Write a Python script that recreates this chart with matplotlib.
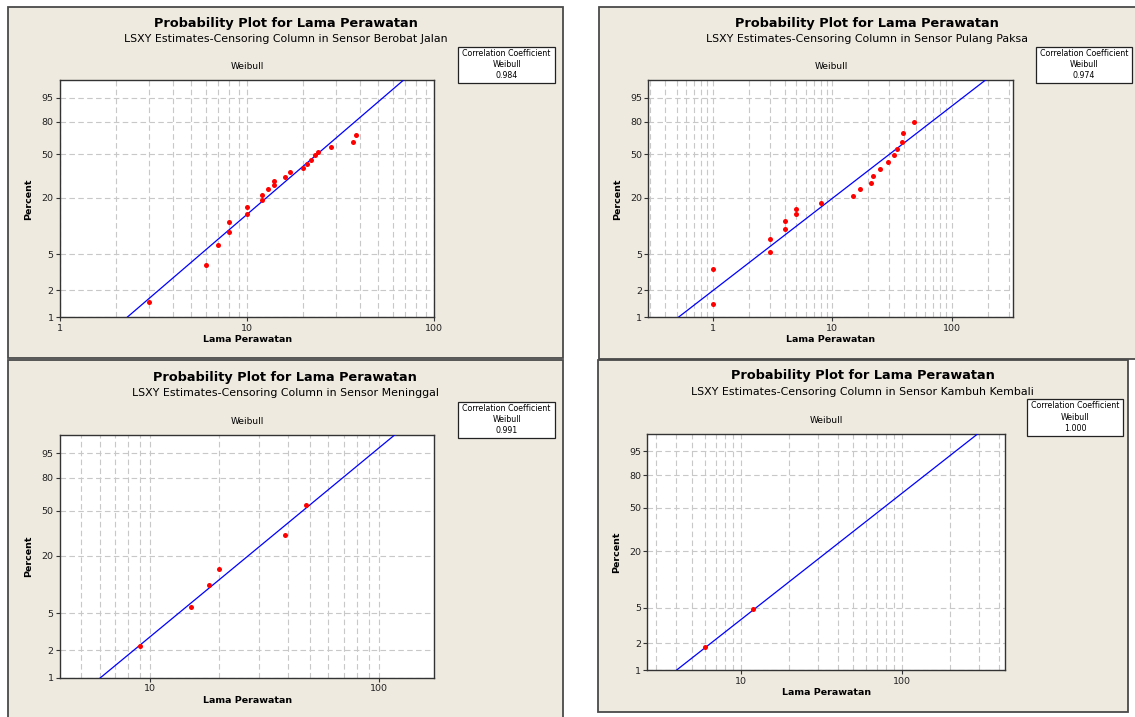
import numpy as np
import matplotlib.pyplot as plt
from matplotlib.patches import Rectangle
from matplotlib.ticker import LogLocator, NullLocator, FuncFormatter

W, H = 1135, 717

# data (lama perawatan, percent)
berobat_x = [3, 6, 7, 8, 8, 10, 10, 12, 12, 13, 14, 14, 16, 17, 20, 21, 22, 23, 24, 28, 37, 38]
berobat_pct = [1.47, 3.86, 6.3, 8.7, 11.1, 13.6, 16.2, 18.9, 21.3, 24.3, 26.9, 29.2,
               32.0, 35.3, 38.0, 41.7, 44.8, 48.8, 51.9, 56.5, 61.6, 67.9]

pulang_x = [1, 1, 3, 3, 4, 4, 5, 5, 8, 15, 17, 21, 22, 25, 29, 33, 35, 38, 39, 48]
pulang_pct = [1.41, 3.43, 5.37, 7.4, 9.5, 11.4, 13.6, 15.5, 17.6, 20.8, 24.3, 27.9,
              32.7, 37.3, 43.4, 48.8, 54.6, 61.6, 69.5, 79.4]

meninggal_x = [9, 15, 18, 20, 39, 48]
meninggal_pct = [2.24, 5.87, 10.1, 14.5, 31.4, 54.8]

kambuh_x = [6, 12]
kambuh_pct = [1.81, 4.88]

# fitted weibull lines (shape, scale) and correlation coefficient
shapes = [1.81, 1.04, 2.08, 1.43]
scales = [29.0, 42.9, 55.3, 99.7]
corr = ['0.984', '0.974', '0.991', '1.000']
sensors = ['Berobat Jalan', 'Pulang Paksa', 'Meninggal', 'Kambuh Kembali']

pct_ticks = [1, 2, 5, 20, 50, 80, 95]

# layout in pixels: axes (left, right, top, bottom), frame, legend box
ax_box = [(60, 434.3, 80.3, 317.3), (648.4, 1013.4, 80.3, 317.3),
          (60, 434.3, 435.3, 677.7), (647.4, 1005.4, 434, 670.3)]
frames = [(8, 563, 7, 358), (598.7, 1140, 7, 359),
          (8, 562.5, 360, 725), (597.6, 1127.7, 360, 711.7)]
legs = [(458.3, 555, 46.7, 82.7), (1035.6, 1132.2, 46.7, 82.7),
        (458.3, 555, 401.7, 437.7), (1027.3, 1122.5, 399.3, 436.3)]
title_y = [23.3, 23.3, 377, 376]
xlims = [(1, 100), (0.289, 328), (4.03, 174.4), (2.645, 438.7)]
xticks = [[1, 10, 100], [1, 10, 100], [10, 100], [10, 100]]

xs_all = [berobat_x, pulang_x, meninggal_x, kambuh_x]
ps_all = [berobat_pct, pulang_pct, meninggal_pct, kambuh_pct]

bg = '#EEEAE0'
grid_c = '#C8C8C8'


def fwd(p):
    p = np.clip(np.asarray(p, dtype=float), 1e-9, 100 - 1e-9)
    return np.log(-np.log(1 - p / 100))


def inv(w):
    return 100 * (1 - np.exp(-np.exp(w)))


def fx(x):
    return x / W


def fy(y):
    return 1 - y / H


fig = plt.figure(figsize=(W / 100, H / 100), dpi=100, facecolor='white')

for i in range(4):
    l, r, t, b = ax_box[i]
    fl, fr, ft, fb = frames[i]
    fig.add_artist(Rectangle((fx(fl), fy(fb)), fx(fr - fl), (fb - ft) / H,
                             transform=fig.transFigure, facecolor=bg,
                             edgecolor='#4a4a4a', lw=1.3, zorder=-2))

    ax = fig.add_axes([fx(l), fy(b), fx(r - l), (b - t) / H])
    ax.set_facecolor('white')
    ax.set_xscale('log')
    ax.set_yscale('function', functions=(fwd, inv))
    ax.set_xlim(*xlims[i])
    ax.set_ylim(1, 99.1)

    ax.set_yticks(pct_ticks)
    ax.set_yticklabels([str(v) for v in pct_ticks])
    ax.yaxis.set_minor_locator(NullLocator())
    ax.set_xticks(xticks[i])
    ax.xaxis.set_major_formatter(FuncFormatter(lambda v, _: f'{v:g}'))
    ax.xaxis.set_minor_locator(LogLocator(base=10, subs=range(2, 10)))
    ax.xaxis.set_minor_formatter(FuncFormatter(lambda v, _: ''))
    ax.tick_params(axis='both', which='major', length=3, width=0.8, pad=1.5,
                   labelsize=6.8, color='#333333', labelcolor='#222222')
    ax.tick_params(axis='x', which='minor', length=0)

    ax.grid(True, axis='x', which='both', color=grid_c, lw=0.8, ls=(0, (5, 3)))
    ax.grid(True, axis='y', which='major', color=grid_c, lw=0.8, ls=(0, (5, 3)))
    ax.set_axisbelow(True)
    for s in ax.spines.values():
        s.set_color('#333333')
        s.set_linewidth(1.0)

    # fitted line
    xl = np.geomspace(xlims[i][0], xlims[i][1], 300)
    ax.plot(xl, -100 * np.expm1(-(xl / scales[i]) ** shapes[i]),
            color='#0000FF', lw=0.9, zorder=3)
    ax.plot(xs_all[i], ps_all[i], 'o', color='#FF0000', ms=3.6, mew=0,
            zorder=4, clip_on=False)

    ax.set_xlabel('Lama Perawatan', fontsize=6.8, fontweight='bold', labelpad=2)
    ax.set_ylabel('Percent', fontsize=6.8, fontweight='bold', labelpad=6)

    # titles
    cx = (fl + fr) / 2 if i != 1 else 867.2
    ty = title_y[i]
    fig.text(fx(cx), fy(ty), 'Probability Plot for Lama Perawatan',
             ha='center', va='center', fontsize=9.3, fontweight='bold')
    fig.text(fx(cx), fy(ty + 15.7), 'LSXY Estimates-Censoring Column in Sensor ' + sensors[i],
             ha='center', va='center', fontsize=7.9)
    fig.text(fx((l + r) / 2), fy(t - 13.5), 'Weibull',
             ha='center', va='center', fontsize=6.5)

    # correlation box
    ll, lr, lt, lb = legs[i]
    fig.add_artist(Rectangle((fx(ll), fy(lb)), fx(lr - ll), (lb - lt) / H,
                             transform=fig.transFigure, facecolor='white',
                             edgecolor='#222222', lw=0.9, zorder=2))
    lcx = (ll + lr) / 2
    for k, txt in enumerate(['Correlation Coefficient', 'Weibull', corr[i]]):
        fig.text(fx(lcx), fy(lt + 6.5 + 11.2 * k), txt, ha='center', va='center',
                 fontsize=5.7, zorder=3)

fig.savefig('out.png', dpi=100, facecolor='white')
